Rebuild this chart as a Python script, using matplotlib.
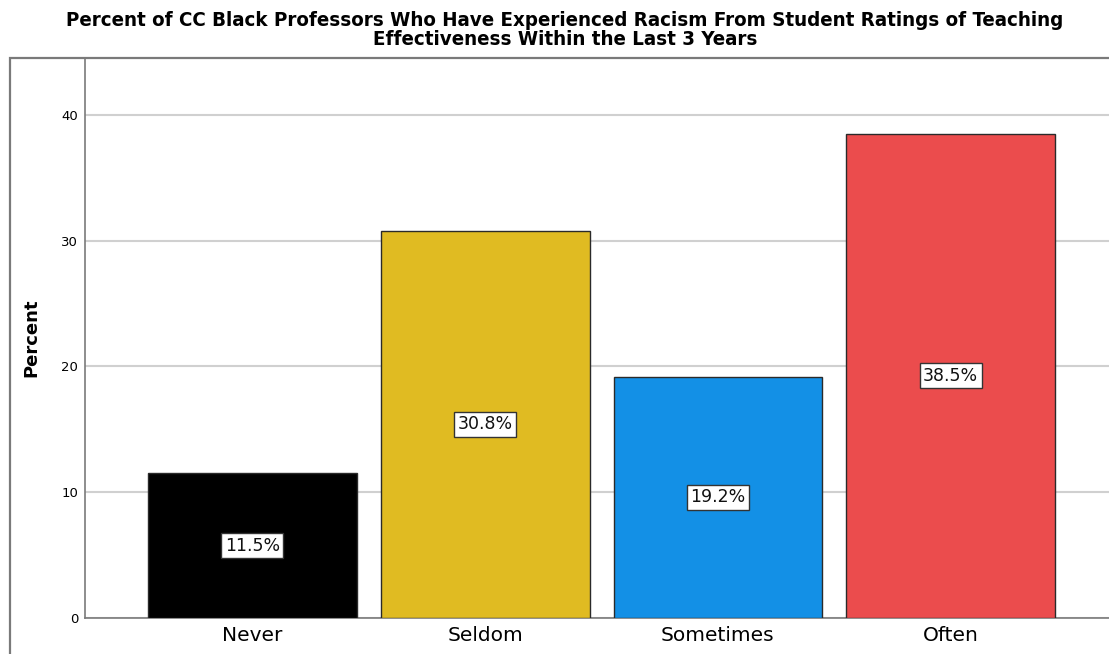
import matplotlib
matplotlib.use("Agg")
import matplotlib.pyplot as plt
from matplotlib.patches import Rectangle

categories = ["Never", "Seldom", "Sometimes", "Often"]
percents = [11.5, 30.8, 19.2, 38.5]
colors = ["#000000", "#E0BB22", "#1390E6", "#EB4C4D"]
yticks = [0, 10, 20, 30, 40]
title = ("Percent of CC Black Professors Who Have Experienced Racism From Student Ratings of Teaching\n"
         "Effectiveness Within the Last 3 Years")

W, H = 1109, 654
fig = plt.figure(figsize=(W / 100, H / 100), dpi=100)

# outer frame
fig.patches.append(Rectangle((10 / W, -0.05), 1.2, (H - 58) / H + 0.05,
                             transform=fig.transFigure, fill=False,
                             edgecolor="#7a7a7a", linewidth=1.6, zorder=0))

ax = fig.add_axes([85 / W, 36 / H, 1 - 85 / W, (618 - 58) / H])
ax.set_facecolor("none")
x = list(range(len(categories)))
ax.bar(x, percents, width=0.897, color=colors, edgecolor="#2a2a2a",
       linewidth=1.0, zorder=3)
for xi, v in zip(x, percents):
    ax.text(xi, v / 2, f"{v:.1f}%", ha="center", va="center", fontsize=12.5,
            color="#111111", zorder=4,
            bbox=dict(boxstyle="square,pad=0.2", facecolor="white",
                      edgecolor="#333333", linewidth=1.0))

ax.set_xlim(-0.719, 3.680)
ax.set_ylim(0, 44.53)
ax.set_xticks(x)
ax.set_xticklabels(categories, fontsize=14.5)
ax.set_yticks(yticks)
ax.set_yticklabels([str(t) for t in yticks], fontsize=9.5)
ax.tick_params(axis="y", length=0, pad=5)
ax.tick_params(axis="x", length=0, pad=6)
ax.yaxis.grid(True, color="#d0d0d0", linewidth=1.5, zorder=1)
ax.set_axisbelow(True)
for s in ["top", "right"]:
    ax.spines[s].set_visible(False)
ax.spines["left"].set_color("#7a7a7a")
ax.spines["bottom"].set_color("#7a7a7a")
ax.spines["left"].set_linewidth(1.2)
ax.spines["bottom"].set_linewidth(1.2)
ax.set_ylabel("Percent", fontsize=13, fontweight="bold", labelpad=15)

fig.text(565 / W, 1 - 30 / H, title, ha="center", va="center", fontsize=14.65,
         fontweight="bold", fontstretch="condensed", linespacing=1.02,
         family=["DejaVu Sans"])

fig.savefig("out.png", dpi=100)
